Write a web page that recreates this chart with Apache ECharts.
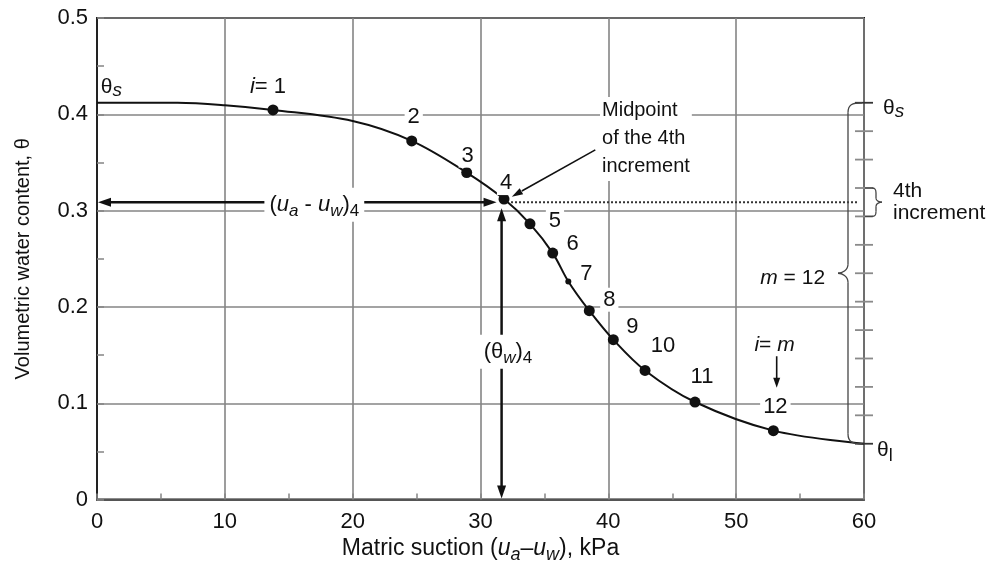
<!DOCTYPE html>
<html>
<head>
<meta charset="utf-8">
<title>Soil-water characteristic curve</title>
<script src="https://cdn.jsdelivr.net/npm/echarts@6.0.0/dist/echarts.min.js"></script>
<style>
html, body { margin: 0; padding: 0; background: #fff; }
#chart { width: 998px; height: 569px; }
</style>
</head>
<body>
<div id="chart"></div>
<script>
// Axis ticks
const xTicks = [0, 10, 20, 30, 40, 50, 60];
const xTickLabels = ['0', '10', '20', '30', '40', '50', '60'];
const yTicks = [0, 0.1, 0.2, 0.3, 0.4, 0.5];
const yTickLabels = ['0', '0.1', '0.2', '0.3', '0.4', '0.5'];

// Soil-water characteristic curve: matric suction (kPa) vs volumetric water content
const curveSuction = [0, 6.3, 10, 13.77, 20, 24.62, 28.92, 31.84, 33.87, 35.65, 36.87, 38.51, 40.39, 42.87, 46.78, 52.91, 60];
const curveTheta   = [0.412, 0.412, 0.4095, 0.4046, 0.393, 0.3724, 0.3395, 0.312, 0.2863, 0.2559, 0.2265, 0.1961, 0.166, 0.1341, 0.1013, 0.0716, 0.058];

// Midpoints of the m = 12 water-content increments
const pointLabels  = ['i = 1', '2', '3', '4', '5', '6', '7', '8', '9', '10', '11', '12'];
const pointSuction = [13.77, 24.62, 28.92, 31.84, 33.87, 35.65, 36.87, 38.51, 40.39, 42.87, 46.78, 52.91];
const pointTheta   = [0.4046, 0.3724, 0.3395, 0.312, 0.2863, 0.2559, 0.2265, 0.1961, 0.166, 0.1341, 0.1013, 0.0716];

// Saturated and residual water contents and the increment boundaries between them
const thetaS = 0.412;
const thetaL = 0.058;
const incrementLevels = [0.412, 0.3825, 0.353, 0.3235, 0.294, 0.2645, 0.235, 0.2055, 0.176, 0.1465, 0.117, 0.0875, 0.058];

// 4th increment: midpoint water content and the suction it corresponds to
const midSuction = 31.65;
const midTheta = 0.3088;

// ---- styling / layout ----
const FONT = '"Liberation Sans", Arial, Helvetica, sans-serif';
const INK = '#111';
const GRID = '#858585';
const labelOffsets = [[-5, -23], [2, -24], [1, -17], [2, -16], [25, -3], [20, -9], [18, -7], [20, -11], [19, -13], [18, -24], [7, -25], [2, -24]];

const chart = echarts.init(document.getElementById('chart'), null, { renderer: 'canvas' });

const nameRich = {
  t: { fontSize: 23, color: INK, lineHeight: 30, fontFamily: FONT },
  u: { fontSize: 23, color: INK, fontStyle: 'italic', lineHeight: 30, fontFamily: FONT },
  s: { fontSize: 18, color: INK, fontStyle: 'italic', verticalAlign: 'bottom', lineHeight: 19, fontFamily: FONT }
};

function tickText(list, labels, v) {
  const i = list.findIndex(t => Math.abs(t - v) < 1e-9);
  return i < 0 ? '' : labels[i];
}

const option = {
  animation: false,
  backgroundColor: '#fff',
  textStyle: { fontFamily: FONT },
  grid: { left: 97, top: 18, right: 134, bottom: 69, show: true, borderColor: '#1a1a1a', borderWidth: 2, backgroundColor: 'transparent' },
  xAxis: {
    type: 'value', min: 0, max: 60, interval: 10,
    name: '{t|Matric suction (}{u|u}{s|a}{t|\u2013}{u|u}{s|w}{t|), kPa}',
    nameLocation: 'middle', nameGap: 33,
    nameTextStyle: { rich: nameRich },
    axisLine: { show: true, lineStyle: { color: '#555', width: 2 } },
    axisTick: { show: true, inside: true, length: 6, lineStyle: { color: GRID, width: 1.5 } },
    minorTick: { show: true, splitNumber: 2, length: 6, lineStyle: { color: GRID, width: 1.5 } },
    axisLabel: { fontSize: 22, color: INK, margin: 11, formatter: v => tickText(xTicks, xTickLabels, v) },
    splitLine: { show: true, lineStyle: { color: GRID, width: 1.6 } }
  },
  yAxis: {
    type: 'value', min: 0, max: 0.5, interval: 0.1,
    name: 'Volumetric water content, \u03b8',
    nameLocation: 'middle', nameGap: 64,
    nameTextStyle: { fontSize: 20, color: INK },
    axisLine: { show: true, lineStyle: { color: '#222', width: 2 } },
    axisTick: { show: true, inside: true, length: 7, lineStyle: { color: GRID, width: 1.5 } },
    minorTick: { show: true, splitNumber: 2, length: 7, lineStyle: { color: GRID, width: 1.5 } },
    axisLabel: { fontSize: 22, color: INK, margin: 9, formatter: v => tickText(yTicks, yTickLabels, v) },
    splitLine: { show: true, lineStyle: { color: GRID, width: 1.6 } }
  },
  series: [
    {
      type: 'line', silent: true, z: 3,
      data: curveSuction.map((x, i) => [x, curveTheta[i]]),
      smooth: 0.35, showSymbol: false,
      lineStyle: { color: '#111', width: 2 }
    },
    {
      type: 'scatter', silent: true, z: 5,
      symbol: 'circle',
      data: pointSuction.map((x, i) => ({
        value: [x, pointTheta[i]],
        symbolSize: i === 6 ? 6 : 11,
        label: { offset: labelOffsets[i] }
      })),
      itemStyle: { color: '#111', opacity: 1 },
      label: {
        show: true, position: 'inside',
        formatter: p => p.dataIndex === 0 ? '{it|i}= 1' : pointLabels[p.dataIndex],
        fontSize: 22, color: INK, backgroundColor: '#fff', padding: [1, 3],
        rich: { it: { fontSize: 22, color: INK, fontStyle: 'italic' } }
      }
    }
  ]
};

chart.setOption(option);

// ---- annotations, placed through the grid's coordinate system ----
const P = (x, y) => chart.convertToPixel({ gridIndex: 0 }, [x, y]);

function head(tip, from, len, hw, color) {
  const dx = tip[0] - from[0], dy = tip[1] - from[1];
  const d = Math.hypot(dx, dy), ux = dx / d, uy = dy / d;
  const bx = tip[0] - ux * len, by = tip[1] - uy * len;
  return { type: 'polygon', z: 60, shape: { points: [tip, [bx - uy * hw, by + ux * hw], [bx + uy * hw, by - ux * hw]] }, style: { fill: color || INK } };
}
function seg(a, b, w, color, dash) {
  return { type: 'line', z: 55, shape: { x1: a[0], y1: a[1], x2: b[0], y2: b[1] }, style: { stroke: color || INK, lineWidth: w, lineDash: dash || null } };
}
function bez(a, c1, c2, b, w, color) {
  return { type: 'bezierCurve', z: 55, shape: { x1: a[0], y1: a[1], cpx1: c1[0], cpy1: c1[1], cpx2: c2[0], cpy2: c2[1], x2: b[0], y2: b[1] }, style: { stroke: color, lineWidth: w, fill: null } };
}
function txt(pos, text, opts) {
  return { type: 'text', z: 80, x: pos[0], y: pos[1], style: Object.assign({ text: text, fontFamily: FONT, fontSize: 20, fill: INK }, opts || {}) };
}

const g = [];
const O = P(0, 0);
const M = P(midSuction, midTheta);
const P4 = P(pointSuction[3], pointTheta[3]);
const R = P(60, midTheta);

// suction of the 4th increment: horizontal double arrow to the water-content axis
const hL = [O[0] + 1, M[1]], hR = [M[0] - 5, M[1]];
g.push(seg([hL[0] + 10, M[1]], [hR[0] - 10, M[1]], 2.5));
g.push(head(hL, hR, 13, 4.5));
g.push(head(hR, hL, 13, 4.5));

// water content of the 4th increment: vertical double arrow to the suction axis
const vT = [M[0], M[1] + 6], vB = [M[0], O[1] - 1];
g.push(seg([M[0], vT[1] + 10], [M[0], vB[1] - 10], 2.5));
g.push(head(vT, vB, 13, 4.5));
g.push(head(vB, vT, 13, 4.5));

// dotted projection of the midpoint to the right-hand scale
g.push(seg([P4[0] + 7, M[1]], [R[0] - 7, M[1]], 2, '#333', [2, 2]));

// leader from the "Midpoint" note to point 4
const lA = P(38.98, 0.3631), lB = P(32.45, 0.3145);
g.push(seg(lA, [lB[0] + (lA[0] - lB[0]) * 0.12, lB[1] + (lA[1] - lB[1]) * 0.12], 1.6));
g.push(head(lB, lA, 11, 3.5));

// i = m arrow
const aT = P(53.17, 0.1504), aB = P(53.17, 0.1162);
g.push(seg(aT, [aB[0], aB[1] - 8], 1.6));
g.push(head(aB, aT, 10, 3.5));

// increment tick marks on the right-hand scale
incrementLevels.forEach((lv, i) => {
  const p = P(60, lv);
  const dark = i === 0 || i === incrementLevels.length - 1;
  g.push(seg([p[0] - 9, p[1]], [p[0] + 9, p[1]], 1.8, dark ? '#333' : '#8a8a8a'));
});

// large brace spanning the m = 12 increments
(function () {
  const top = P(60, thetaS), bot = P(60, thetaL);
  const xa = top[0] - 2, xb = top[0] - 16, xp = top[0] - 26;
  const yt = top[1], yb = bot[1], ym = (yt + yb) / 2;
  const c = '#444', w = 1.3;
  g.push(bez([xa, yt], [xb + 4, yt], [xb, yt + 2], [xb, yt + 10], w, c));
  g.push(seg([xb, yt + 10], [xb, ym - 9], w, c));
  g.push(bez([xb, ym - 9], [xb, ym - 3], [xp + 4, ym], [xp, ym], w, c));
  g.push(bez([xp, ym], [xp + 4, ym], [xb, ym + 3], [xb, ym + 9], w, c));
  g.push(seg([xb, ym + 9], [xb, yb - 10], w, c));
  g.push(bez([xb, yb - 10], [xb, yb - 2], [xb + 4, yb], [xa, yb], w, c));
})();

// small brace for the 4th increment
(function () {
  const a = P(60, incrementLevels[3]), b = P(60, incrementLevels[4]);
  const x0 = a[0] + 1, x1 = a[0] + 8, xv = a[0] + 12, xp = a[0] + 18;
  const y1 = a[1], y2 = b[1], ym = (y1 + y2) / 2;
  const c = '#444', w = 1.3;
  g.push(seg([x0, y1], [x1, y1], w, c));
  g.push(bez([x1, y1], [xv - 1, y1], [xv, y1 + 1], [xv, y1 + 5], w, c));
  g.push(seg([xv, y1 + 5], [xv, ym - 4], w, c));
  g.push(bez([xv, ym - 4], [xv, ym - 1], [xp - 2, ym], [xp, ym], w, c));
  g.push(bez([xp, ym], [xp - 2, ym], [xv, ym + 1], [xv, ym + 4], w, c));
  g.push(seg([xv, ym + 4], [xv, y2 - 5], w, c));
  g.push(bez([xv, y2 - 5], [xv, y2 - 1], [xv - 1, y2], [x1, y2], w, c));
  g.push(seg([x1, y2], [x0, y2], w, c));
})();

// text annotations
const thetaRich = {
  t: { fontSize: 21, fill: INK, fontFamily: FONT, lineHeight: 26 },
  s: { fontSize: 19, fill: INK, fontFamily: FONT, fontStyle: 'italic', verticalAlign: 'bottom', lineHeight: 20 },
  l: { fontSize: 18, fill: INK, fontFamily: FONT, verticalAlign: 'bottom', lineHeight: 17 }
};
g.push(txt(P(0.3, 0.4284), '{t|\u03b8}{s|s}', { rich: thetaRich, verticalAlign: 'middle', align: 'left' }));
g.push(txt(P(61.49, 0.4062), '{t|\u03b8}{s|s}', { rich: thetaRich, verticalAlign: 'middle', align: 'left' }));
g.push(txt(P(61.02, 0.0515), '{t|\u03b8}{l|l}', { rich: { t: { fontSize: 21, fill: INK, fontFamily: FONT, lineHeight: 30 }, l: { fontSize: 18, fill: INK, fontFamily: FONT, verticalAlign: 'bottom', lineHeight: 17 } }, verticalAlign: 'middle', align: 'left' }));

g.push(txt(P(62.27, midTheta), '4th\nincrement', { fontSize: 21, lineHeight: 22, verticalAlign: 'middle', align: 'left', backgroundColor: '#fff' }));

g.push(txt(P(39.35, 0.418), 'Midpoint\nof the 4th\nincrement', { fontSize: 20, lineHeight: 28, verticalAlign: 'top', align: 'left', backgroundColor: '#fff', padding: [0, 2] }));

g.push(txt(P(57.19, 0.2303), '{it|m} = 12', { fontSize: 21, verticalAlign: 'middle', align: 'right', backgroundColor: '#fff', padding: [2, 3], rich: { it: { fontSize: 21, fontStyle: 'italic', fill: INK, fontFamily: FONT } } }));

g.push(txt(P(53.0, 0.1608), '{it|i}= {it|m}', { fontSize: 21, verticalAlign: 'middle', align: 'center', backgroundColor: '#fff', padding: [1, 3], rich: { it: { fontSize: 21, fontStyle: 'italic', fill: INK, fontFamily: FONT } } }));

const annRich = {
  t: { fontSize: 22, fill: INK, fontFamily: FONT, lineHeight: 30 },
  u: { fontSize: 22, fill: INK, fontFamily: FONT, fontStyle: 'italic', lineHeight: 30 },
  s: { fontSize: 17, fill: INK, fontFamily: FONT, fontStyle: 'italic', verticalAlign: 'bottom', lineHeight: 19 },
  n: { fontSize: 17, fill: INK, fontFamily: FONT, verticalAlign: 'bottom', lineHeight: 19 }
};
g.push(txt(P(17.0, 0.306), '{t|(}{u|u}{s|a}{t| - }{u|u}{s|w}{t|)}{n|4}', { rich: annRich, align: 'center', verticalAlign: 'middle', backgroundColor: '#fff', padding: [2, 5] }));
g.push(txt(P(32.15, 0.1535), '{t|(\u03b8}{s|w}{t|)}{n|4}', { rich: annRich, align: 'center', verticalAlign: 'middle', backgroundColor: '#fff', padding: [2, 4] }));

chart.setOption({ graphic: { elements: g } });
</script>
</body>
</html>
